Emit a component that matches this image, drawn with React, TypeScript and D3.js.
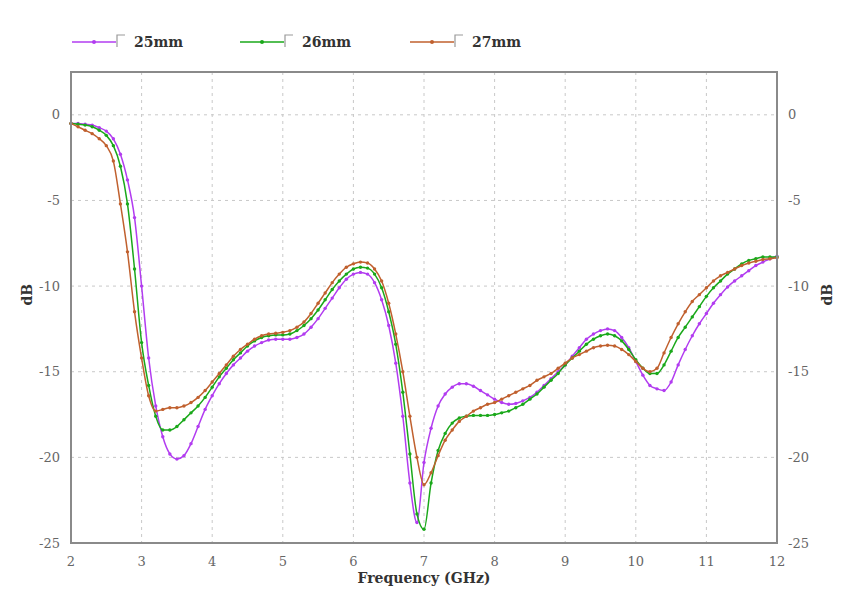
import React from 'react'
import * as d3 from 'd3'

// sampling grid, 0.1 GHz steps from 2 to 12
const freqs = d3.range(0, 101).map(i => +(2 + i * 0.1).toFixed(1))

const s25 = [
  -0.5, -0.5, -0.55, -0.6, -0.75, -0.95, -1.4, -2.3, -3.8, -6.0,
  -10.0, -14.2, -17.0, -18.8, -19.8, -20.1, -19.9, -19.2, -18.2, -17.2,
  -16.4, -15.7, -15.1, -14.6, -14.2, -13.8, -13.5, -13.3, -13.15, -13.1,
  -13.1, -13.1, -13.0, -12.8, -12.4, -11.9, -11.3, -10.7, -10.1, -9.6,
  -9.3, -9.2, -9.3, -9.8, -10.8, -12.3, -14.5, -17.6, -21.5, -23.8,
  -20.3, -18.3, -17.0, -16.3, -15.9, -15.7, -15.7, -15.85, -16.1, -16.35,
  -16.6, -16.8, -16.9, -16.85, -16.7, -16.5, -16.2, -15.8, -15.4, -15.0,
  -14.6, -14.1, -13.6, -13.1, -12.8, -12.6, -12.5, -12.6, -13.0, -13.6,
  -14.4, -15.2, -15.8, -16.0, -16.1, -15.6, -14.6, -13.7, -12.9, -12.2,
  -11.6, -11.0, -10.5, -10.05, -9.7, -9.4, -9.1, -8.8, -8.6, -8.4,
  -8.25,
]

const s26 = [
  -0.5, -0.55, -0.6, -0.7, -0.9, -1.2, -1.8, -3.0, -5.2, -9.0,
  -13.3, -15.8, -17.6, -18.4, -18.4, -18.2, -17.8, -17.4, -17.0, -16.5,
  -15.9, -15.3, -14.8, -14.3, -13.9, -13.5, -13.2, -13.0, -12.9, -12.85,
  -12.85, -12.8, -12.6, -12.3, -11.9, -11.4, -10.8, -10.2, -9.7, -9.3,
  -9.0, -8.9, -8.95, -9.3, -10.1, -11.5, -13.4, -16.2, -19.8, -23.3,
  -24.2, -21.5, -19.6, -18.6, -18.0, -17.7, -17.6, -17.55, -17.55, -17.55,
  -17.5, -17.4, -17.3, -17.1, -16.9, -16.6, -16.3, -15.9, -15.5, -15.1,
  -14.6, -14.2, -13.8, -13.4, -13.1, -12.9, -12.8, -12.9, -13.2, -13.7,
  -14.3, -14.8, -15.1, -15.1, -14.6, -13.8, -13.0, -12.4, -11.8, -11.2,
  -10.6, -10.1, -9.7, -9.3, -9.0, -8.7, -8.5, -8.4, -8.3, -8.3,
  -8.3,
]

const s27 = [
  -0.5, -0.7, -0.9, -1.1, -1.4, -1.8, -2.7, -5.2, -8.0, -11.5,
  -14.2, -16.4, -17.3, -17.2, -17.1, -17.1, -17.0, -16.8, -16.5, -16.1,
  -15.6, -15.1, -14.6, -14.1, -13.7, -13.4, -13.1, -12.9, -12.8, -12.75,
  -12.7, -12.6, -12.4, -12.1, -11.6, -11.0, -10.4, -9.8, -9.3, -8.9,
  -8.7, -8.6, -8.65, -9.0, -9.7, -11.0, -12.8, -15.0, -17.6, -20.0,
  -21.6, -20.9, -19.9, -19.0, -18.4, -17.9, -17.6, -17.3, -17.1, -16.9,
  -16.8, -16.6, -16.4, -16.2, -16.0, -15.8, -15.5, -15.3, -15.1, -14.8,
  -14.5, -14.2, -14.0, -13.8, -13.6, -13.5, -13.45, -13.5, -13.7, -14.0,
  -14.4, -14.8, -15.0, -14.8, -13.9, -13.0, -12.2, -11.5, -10.9, -10.5,
  -10.1, -9.7, -9.4, -9.2, -9.0, -8.8, -8.65, -8.55, -8.45, -8.4,
  -8.35,
]

const seriesNames = ['25mm', '26mm', '27mm']
const seriesColors = ['#b23cf0', '#1aa81a', '#c0602e']
const seriesValues = [s25, s26, s27]

const xTicks = [2, 3, 4, 5, 6, 7, 8, 9, 10, 11, 12]
const yTicks = [0, -5, -10, -15, -20, -25]

const W = 844
const H = 606
const margin = { top: 72, right: 67, bottom: 63, left: 71 }

export default function App() {
  const x = d3.scaleLinear().domain([2, 12]).range([margin.left, W - margin.right])
  const y = d3.scaleLinear().domain([-25, 2.5]).range([H - margin.bottom, margin.top])

  const line = d3
    .line<number>()
    .x((d, i) => x(freqs[i]))
    .y(d => y(d))
    .curve(d3.curveMonotoneX)

  const serif = "'DejaVu Serif', 'Liberation Serif', serif"
  const legendX = [72, 240, 410]

  return (
    <svg width={W} height={H} style={{ position: 'absolute', left: 0, top: 0, background: '#fff' }}>
      {/* grid */}
      <g stroke="#c8c8c8" strokeWidth={1} strokeDasharray="3,4">
        {xTicks.slice(1, -1).map(t => (
          <line key={'gx' + t} x1={x(t)} x2={x(t)} y1={y(2.5)} y2={y(-25)} />
        ))}
        {yTicks.slice(0, -1).map(t => (
          <line key={'gy' + t} x1={x(2)} x2={x(12)} y1={y(t)} y2={y(t)} />
        ))}
      </g>

      {/* series */}
      {seriesValues.map((vals, si) => (
        <g key={seriesNames[si]}>
          <path d={line(vals) || ''} fill="none" stroke={seriesColors[si]} strokeWidth={1.5} />
          {vals.map((v, i) => (
            <circle key={i} cx={x(freqs[i])} cy={y(v)} r={1.7} fill={seriesColors[si]} />
          ))}
        </g>
      ))}

      {/* frame */}
      <rect
        x={x(2)}
        y={y(2.5)}
        width={x(12) - x(2)}
        height={y(-25) - y(2.5)}
        fill="none"
        stroke="#8a8a8a"
        strokeWidth={2}
      />

      {/* tick labels */}
      <g fontFamily={serif} fontSize={13} fill="#666">
        {yTicks.map(t => (
          <text key={'yl' + t} x={x(2) - 11} y={y(t)} dy="0.35em" textAnchor="end">
            {t}
          </text>
        ))}
        {yTicks.map(t => (
          <text key={'yr' + t} x={x(12) + 11} y={y(t)} dy="0.35em" textAnchor="start">
            {t}
          </text>
        ))}
        {xTicks.map(t => (
          <text key={'xl' + t} x={x(t)} y={y(-25) + 23} textAnchor="middle">
            {t}
          </text>
        ))}
      </g>

      {/* axis titles */}
      <g fontFamily={serif} fontSize={14} fontWeight="bold" fill="#333">
        <text x={x(7)} y={583} textAnchor="middle">
          Frequency (GHz)
        </text>
        <text transform={`translate(32,${y(-10.5)}) rotate(-90)`} textAnchor="middle">
          dB
        </text>
        <text transform={`translate(832,${y(-10.5)}) rotate(-90)`} textAnchor="middle">
          dB
        </text>
      </g>

      {/* legend */}
      {seriesNames.map((name, i) => {
        const lx = legendX[i]
        return (
          <g key={'lg' + name}>
            <line x1={lx} x2={lx + 44} y1={42} y2={42} stroke={seriesColors[i]} strokeWidth={1.5} />
            <circle cx={lx + 22} cy={42} r={2} fill={seriesColors[i]} />
            <path
              d={`M${lx + 45},47 V35 H${lx + 53}`}
              fill="none"
              stroke="#999"
              strokeWidth={1.2}
            />
            <text x={lx + 62} y={47} fontFamily={serif} fontSize={14} fontWeight="bold" fill="#333">
              {name}
            </text>
          </g>
        )
      })}
    </svg>
  )
}
